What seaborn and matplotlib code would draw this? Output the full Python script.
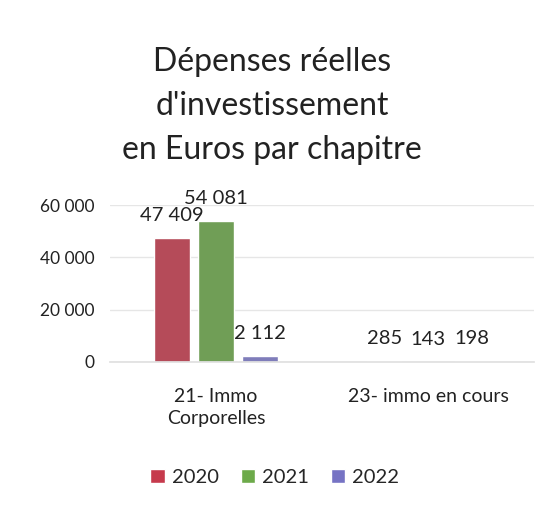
import matplotlib
matplotlib.use("Agg")
import matplotlib.pyplot as plt
import seaborn as sns
import pandas as pd
from matplotlib.patches import Patch

categories = ["21- Immo\nCorporelles", "23- immo en cours"]
years = ["2020", "2021", "2022"]
values_2020 = [47409, 285]
values_2021 = [54081, 143]
values_2022 = [2112, 198]
yticks = [0, 20000, 40000, 60000]

colors = ["#C63A4C", "#6DAA4A", "#7673C4"]

df = pd.DataFrame({
    "Chapitre": categories * 3,
    "Année": [y for y in years for _ in categories],
    "Montant": values_2020 + values_2021 + values_2022,
})

sns.set_theme(style="white")
plt.rcParams["font.family"] = ["Lato", "DejaVu Sans"]

fig = plt.figure(figsize=(5.44, 5.09), dpi=100)
ax = fig.add_axes([0.202, 0.289, 0.78, 0.308])

sns.barplot(data=df, x="Chapitre", y="Montant", hue="Année", palette=colors,
            width=0.62, gap=0.18, ax=ax, legend=False)

def fmt(v):
    return f"{int(v):,}".replace(",", " ")

for cont in ax.containers:
    ax.bar_label(cont, labels=[fmt(b.get_height()) for b in cont],
                 padding=10, fontsize=14.5, color="#222222")

ax.set_ylim(0, 60000)
ax.set_yticks(yticks)
ax.set_yticklabels([fmt(v) for v in yticks], fontsize=12.5, color="#222222")
for lbl in ax.get_xticklabels():
    lbl.set_linespacing(1.35)
ax.tick_params(axis="x", labelsize=14, colors="#222222", pad=13)
ax.tick_params(axis="y", pad=5)
ax.set_xlabel("")
ax.set_ylabel("")
ax.yaxis.grid(True, color="#E6E6E6", linewidth=1)
for s in ["top", "right", "left"]:
    ax.spines[s].set_visible(False)
ax.spines["bottom"].set_color("#E0E0E0")

fig.suptitle("Dépenses réelles\nd'investissement\nen Euros par chapitre",
             y=0.792, va="center", fontsize=23, color="#222222", linespacing=1.58)

handles = [Patch(facecolor=c, label=y) for c, y in zip(colors, years)]
fig.legend(handles=handles, loc="center", bbox_to_anchor=(0.505, 0.062), ncol=3,
           frameon=False, fontsize=14.5, handlelength=0.7, handleheight=0.7,
           handletextpad=0.35, columnspacing=1.1)

fig.savefig("out.png", dpi=100, facecolor="white")
